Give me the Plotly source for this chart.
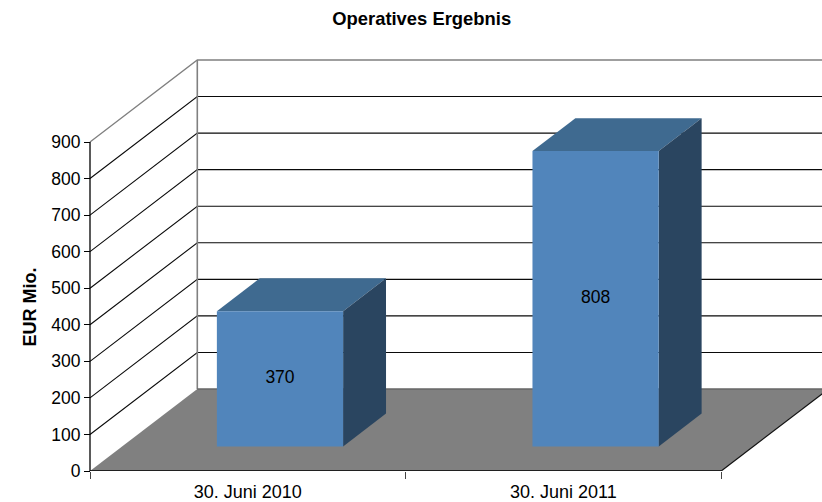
import plotly.graph_objects as go

# ---- data ----
categories = ["30. Juni 2010", "30. Juni 2011"]
values = [370, 808]
y_ticks = [0, 100, 200, 300, 400, 500, 600, 700, 800, 900]
title_text = "Operatives Ergebnis"
y_title = "EUR Mio."

# ---- oblique projection of the 3D box, in axis units ----
W, H = 822, 502
L, B, T = 60, 31, 50
AXIS_X = 90                 # pixel of the front-left corner of the box
PX_PER_CAT = 315.6
PX_PER_VAL = 329.0 / 900
DX = 107.3 / PX_PER_CAT     # category units per full depth
DY = 82.0 / PX_PER_VAL      # value units per full depth
BAR_LO, BAR_HI = 0.3, 0.7   # gap width 150 %
Z_LO, Z_HI = 0.3, 0.7
N = len(categories)
VMAX = y_ticks[-1]

FRONT, TOP, SIDE = "#5185BB", "#3F6A90", "#2A4560"
FLOOR = "#808080"
WALL = "#808080"


def P(x, v, z):
    return x + z * DX, v + z * DY


fig = go.Figure()


def poly(points, fill=None, line=None, lw=1.0):
    xs = [P(*p)[0] for p in points]
    ys = [P(*p)[1] for p in points]
    fig.add_trace(go.Scatter(
        x=xs, y=ys, mode="lines", cliponaxis=False, hoverinfo="skip", showlegend=False,
        fill="toself" if fill else None, fillcolor=fill,
        line=dict(color=line or fill or "black", width=lw if line else 0),
    ))


# walls: gridlines on the side wall and the back wall
for v in y_ticks[1:]:
    if v == VMAX:
        poly([(0, v, 0), (0, v, 1), (N + 0.5, v, 1)], line=WALL, lw=1.3)
    else:
        poly([(0, v, 0), (0, v, 1), (N + 0.5, v, 1)], line="#0a0a0a", lw=1.1)
poly([(0, 0, 1), (0, VMAX, 1)], line=WALL, lw=1.6)

# floor
poly([(0, 0, 0), (N, 0, 0), (N, 0, 1), (0, 0, 1), (0, 0, 0)], fill=FLOOR)
poly([(0, 0, 1), (N, 0, 1)], line="#666666", lw=1.5)
poly([(N, 0, 0), (N, 0, 1)], line="#111111", lw=1.2)

# axis lines
poly([(0, 0, 0), (N, 0, 0)], line="black", lw=1.6)
poly([(0, 0, 0), (0, VMAX, 0)], line="black", lw=1.3)

# bars
for i, v in enumerate(values):
    a, b = i + BAR_LO, i + BAR_HI
    poly([(a, v, Z_LO), (b, v, Z_LO), (b, v, Z_HI), (a, v, Z_HI), (a, v, Z_LO)], fill=TOP)
    poly([(b, 0, Z_LO), (b, 0, Z_HI), (b, v, Z_HI), (b, v, Z_LO), (b, 0, Z_LO)], fill=SIDE)
    poly([(a, 0, Z_LO), (b, 0, Z_LO), (b, v, Z_LO), (a, v, Z_LO), (a, 0, Z_LO)], fill=FRONT)
    cx, cy = P((a + b) / 2, v / 2, Z_LO)
    fig.add_trace(go.Scatter(
        x=[cx], y=[cy], mode="text", text=[str(v)], cliponaxis=False, hoverinfo="skip", showlegend=False,
        textposition="middle center", textfont=dict(family="Liberation Sans", size=17.5, color="black"),
    ))

fig.update_layout(
    width=W, height=H,
    margin=dict(l=L, r=0, t=T, b=B, pad=0),
    paper_bgcolor="white", plot_bgcolor="white",
    showlegend=False,
    font=dict(family="Liberation Sans", size=17, color="black"),
    title=dict(text="<b>%s</b>" % title_text, x=0.513, xanchor="center", y=0.964, yanchor="middle",
               font=dict(family="Liberation Sans", size=18.4, color="black")),
    xaxis=dict(
        automargin=False,
        range=[-(AXIS_X - L) / PX_PER_CAT, (W - AXIS_X) / PX_PER_CAT],
        showgrid=False, zeroline=False, showline=False,
        tickmode="array", tickvals=[i + 0.5 for i in range(N)], ticktext=categories,
        ticks="outside", ticklen=4, tickcolor="rgba(0,0,0,0)", tickfont=dict(size=18),
        minor=dict(tickmode="array", tickvals=list(range(N + 1)), ticks="outside", ticklen=7,
                   tickcolor="#444444", tickwidth=1.2, showgrid=False),
    ),
    yaxis=dict(
        automargin=False, anchor="free", position=(AXIS_X - L) / (W - L),
        range=[0, (H - B - T) / PX_PER_VAL], showgrid=False, zeroline=False, showline=False,
        tickmode="array", tickvals=y_ticks, ticks="outside", ticklen=6, tickcolor="black", tickwidth=1,
        tickfont=dict(size=17.5),
    ),
    annotations=[dict(
        text="<b>%s</b>" % y_title, textangle=-90, showarrow=False,
        xref="x", yref="y", x=0, y=VMAX / 2, xshift=-61, yshift=-1,
        xanchor="center", yanchor="middle", font=dict(size=18),
    )],
)

fig.write_html("out.html", config={"displayModeBar": False},
               post_script="document.body.style.margin='0';")
